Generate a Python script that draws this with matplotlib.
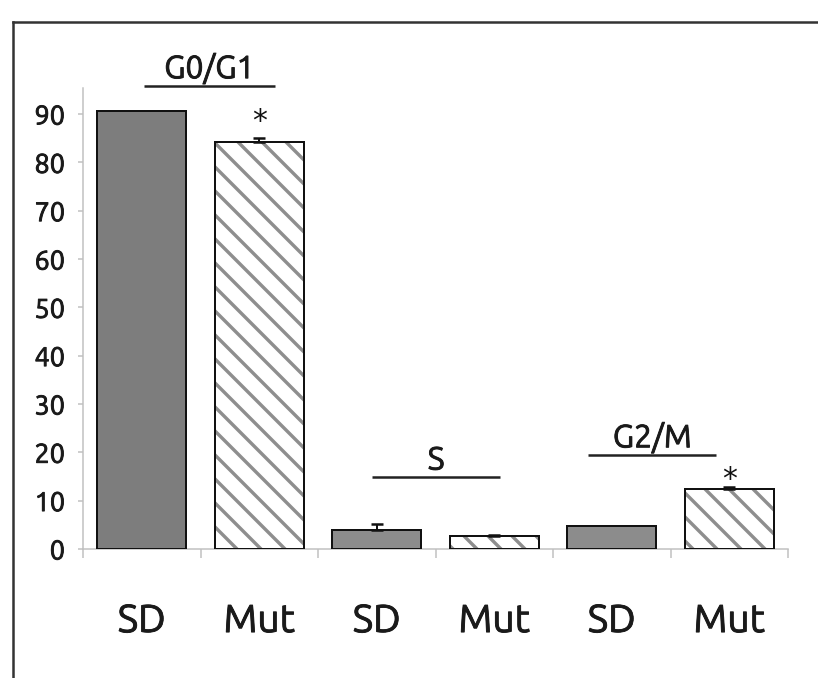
import matplotlib
matplotlib.use("Agg")
import matplotlib.pyplot as plt
from matplotlib import font_manager
import matplotlib.patheffects as pe
import numpy as np

labels = ["SD", "Mut", "SD", "Mut", "SD", "Mut"]
values = [90.6, 84.2, 3.9, 2.7, 4.75, 12.5]
errors = [0.0, 0.9, 1.3, 0.3, 0.0, 0.3]
hatched = [False, True, False, True, False, True]
phases = ["G0/G1", "S", "G2/M"]
phase_x0 = [0.02, 1.96, 3.80]
phase_x1 = [1.13, 3.05, 4.89]
phase_y = [95.8, 14.8, 19.4]
star_x = [1, 5]
star_y = [90.7, 16.6]

# condensed font like the original, if the file is there
cond = [f.fname for f in font_manager.fontManager.ttflist if f.fname.endswith("Ubuntu-C.ttf")]
if cond:
    fp = font_manager.FontProperties(fname=cond[0])
else:
    fp = font_manager.FontProperties(family="DejaVu Sans", stretch="condensed")
heavy = [pe.withStroke(linewidth=0.9, foreground="#1a1a1a")]

plt.rcParams["hatch.linewidth"] = 3.4

dpi = 72
fig = plt.figure(figsize=(818 / dpi, 678 / dpi), dpi=dpi)
ax = fig.add_axes([83 / 818, 1 - 549 / 678, (788 - 83) / 818, (549 - 90) / 678])

x = np.arange(len(values))
for i in x:
    if hatched[i]:
        ax.bar(i, values[i], 0.76, color="white", edgecolor="#8e8e8e", hatch="\\", linewidth=0, zorder=2)
        ax.bar(i, values[i], 0.76, fill=False, edgecolor="#111111", linewidth=2, zorder=3)
    else:
        shade = "#7d7d7d" if i == 0 else "#8c8c8c"
        ax.bar(i, values[i], 0.76, color=shade, edgecolor="#111111", linewidth=2, zorder=3)
    if errors[i] > 0:
        ax.errorbar(i, values[i], yerr=[[0], [errors[i]]], color="#111111", capsize=6,
                    capthick=2.5, elinewidth=2, zorder=4)

ax.set_xlim(-0.5, 5.5)
ax.set_ylim(0, 95)
ax.set_yticks(np.arange(0, 91, 10))
for t in ax.get_yticklabels():
    t.set_fontproperties(fp)
    t.set_fontsize(27)
    t.set_path_effects(heavy)
ax.set_xticks(np.arange(-0.5, 6, 1))
ax.set_xticklabels([])
ax.set_xticks(x, minor=True)
ax.set_xticklabels(labels, minor=True, fontproperties=fp, fontsize=39)
for t in ax.get_xticklabels(minor=True):
    t.set_path_effects(heavy)
ax.tick_params(axis="x", which="minor", length=0, pad=52)
ax.tick_params(axis="x", which="major", length=9, width=1.5, color="#c0c0c0", direction="out")
ax.tick_params(axis="y", length=5, width=1.5, color="#c0c0c0", pad=13, labelcolor="#1a1a1a")
ax.tick_params(axis="x", labelcolor="#1a1a1a", which="both")

for s in ["top", "right"]:
    ax.spines[s].set_visible(False)
for s in ["left", "bottom"]:
    ax.spines[s].set_color("#c0c0c0")
    ax.spines[s].set_linewidth(1.5)
ax.spines["left"].set_bounds(0, 95.5)

for k, name in enumerate(phases):
    ax.plot([phase_x0[k], phase_x1[k]], [phase_y[k], phase_y[k]], color="#222222", lw=2.5,
            clip_on=False, solid_capstyle="butt")
    ax.annotate(name, ((phase_x0[k] + phase_x1[k]) / 2, phase_y[k]), xytext=(0, 8),
                textcoords="offset points", ha="center", va="baseline",
                fontproperties=fp, fontsize=32, color="#1a1a1a", annotation_clip=False,
                path_effects=heavy)

for xi, yi in zip(star_x, star_y):
    ax.annotate("*", (xi, yi), xytext=(0, -19), textcoords="offset points", ha="center",
                va="baseline", fontsize=30, color="#111111")

# frame of the original figure
fig.add_artist(plt.Line2D([13 / 818, 1], [1 - 22 / 678, 1 - 22 / 678], color="#333333", lw=2.5))
fig.add_artist(plt.Line2D([13 / 818, 13 / 818], [0, 1 - 22 / 678], color="#333333", lw=2.5))

plt.savefig("out.png", dpi=dpi)
